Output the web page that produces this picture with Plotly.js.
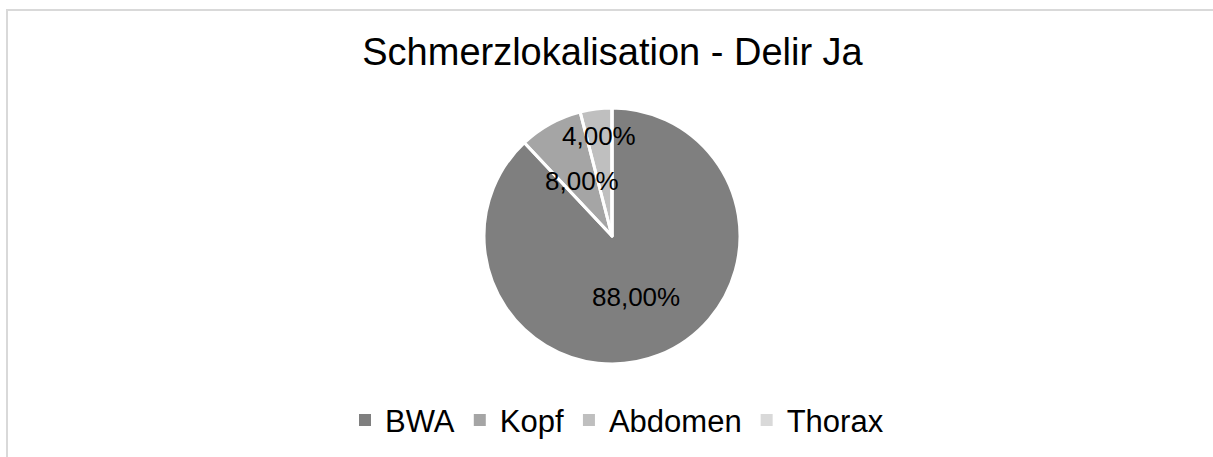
<!DOCTYPE html>
<html>
<head>
<meta charset="utf-8">
<script src="https://cdn.plot.ly/plotly-3.0.1.min.js"></script>
<style>
  html, body { margin: 0; padding: 0; background: #fff; overflow: hidden; }
  #frame { position: absolute; left: 6px; top: 9px; width: 1220px; height: 460px;
           border-left: 2px solid #d9d9d9; border-top: 2px solid #d9d9d9; box-sizing: border-box; }
  #chart { position: absolute; left: 0; top: 0; width: 1213px; height: 457px; }
</style>
</head>
<body>
<div id="frame"></div>
<div id="chart"></div>
<script>
// Data
const categories = ["BWA", "Kopf", "Abdomen", "Thorax"];
const shares = [88, 8, 4, 0];
const sliceColors = ["#7f7f7f", "#a5a5a5", "#bfbfbf", "#d9d9d9"];
const chartTitle = "Schmerzlokalisation - Delir Ja";

// label placement (fraction of radius) per slice, like the original's best-fit labels
const labelRadiusFrac = [0.51, 0.49, 0.79, 0.5];

const W = 1213, H = 457;
const margin = { l: 0, r: 0, t: 108, b: 93 };
const plotW = W - margin.l - margin.r;
const plotH = H - margin.t - margin.b;
const pieCenterX = 612, pieSize = plotH;
const domainX = [(pieCenterX - pieSize / 2) / plotW, (pieCenterX + pieSize / 2) / plotW];
const radiusPx = pieSize / 2;
const cx = (domainX[0] + domainX[1]) / 2;

function fmt(v) {
  return v.toFixed(2).replace(".", ",") + "%";
}

const total = shares.reduce((a, b) => a + b, 0);
const annotations = [];
let cum = 0;
shares.forEach((v, i) => {
  const start = cum / total * 2 * Math.PI;
  cum += v;
  const end = cum / total * 2 * Math.PI;
  if (v <= 0) return;
  const mid = (start + end) / 2;
  const r = radiusPx * labelRadiusFrac[i];
  annotations.push({
    xref: "paper", yref: "paper",
    x: cx + r * Math.sin(mid) / plotW,
    y: 0.5 + r * Math.cos(mid) / plotH,
    xanchor: "center", yanchor: "middle",
    text: fmt(v / total * 100),
    showarrow: false,
    font: { family: "Liberation Sans, Arial, sans-serif", size: 26, color: "#000000" }
  });
});

// filled slices (also drive the legend)
const fillTrace = {
  type: "pie",
  labels: categories,
  values: shares,
  sort: false,
  direction: "clockwise",
  rotation: 0,
  textinfo: "none",
  hoverinfo: "label+percent",
  domain: { x: domainX, y: [0, 1] },
  marker: { colors: sliceColors, line: { width: 0 } },
  showlegend: true
};

// white separators between slices
const edgeTrace = {
  type: "pie",
  labels: categories,
  values: shares,
  sort: false,
  direction: "clockwise",
  rotation: 0,
  textinfo: "none",
  hoverinfo: "skip",
  domain: { x: domainX, y: [0, 1] },
  marker: { colors: categories.map(() => "rgba(0,0,0,0)"), line: { color: "#ffffff", width: 3 } },
  showlegend: false
};

const layout = {
  width: W, height: H,
  margin: margin,
  paper_bgcolor: "rgba(0,0,0,0)",
  plot_bgcolor: "rgba(0,0,0,0)",
  font: { family: "Liberation Sans, Arial, sans-serif", color: "#000000" },
  title: {
    text: chartTitle,
    font: { family: "Liberation Sans, Arial, sans-serif", size: 38, color: "#000000" },
    x: 612.5 / W, xanchor: "center", xref: "container",
    y: 1 - 52 / H, yanchor: "middle", yref: "container"
  },
  legend: {
    orientation: "h",
    x: 617 / plotW, xanchor: "center",
    y: -0.22, yanchor: "middle",
    font: { family: "Liberation Sans, Arial, sans-serif", size: 31, color: "#000000" },
    itemwidth: 30,
    traceorder: "normal"
  },
  annotations: annotations
};

Plotly.newPlot("chart", [fillTrace, edgeTrace], layout, { displayModeBar: false, staticPlot: true });
</script>
</body>
</html>
